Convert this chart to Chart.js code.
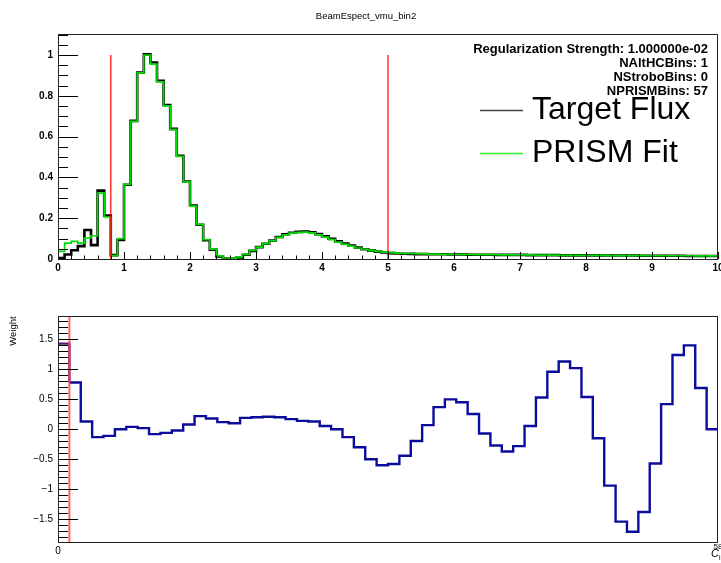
<!DOCTYPE html>
<html>
<head>
<meta charset="utf-8">
<script src="https://cdn.jsdelivr.net/npm/chart.js@4.4.1/dist/chart.umd.min.js"></script>
<style>
  html, body { margin: 0; padding: 0; background: #ffffff; }
  #wrap { position: relative; width: 721px; height: 563px; overflow: hidden; }
  #wrap canvas { position: absolute; left: 0; top: 0; }
</style>
</head>
<body>
<div id="wrap">
  <canvas id="fluxCanvas" width="721" height="563"></canvas>
  <canvas id="weightCanvas" width="721" height="563"></canvas>
</div>
<script>
// ---- Energy binning of the flux histograms (GeV) ----
const energyBinWidth = 0.1;
const energyRange = [0, 10];

// Target flux, 100 bins of 0.1 GeV (normalised to peak)
const targetFlux = [
  0.005, 0.022, 0.043, 0.063, 0.142, 0.068, 0.335, 0.213, 0.019, 0.093,
  0.364, 0.677, 0.914, 1.003, 0.963, 0.873, 0.755, 0.638, 0.506, 0.380,
  0.262, 0.168, 0.092, 0.046, 0.012, 0.004, 0.002, 0.007, 0.021, 0.040,
  0.058, 0.075, 0.091, 0.108, 0.121, 0.129, 0.133, 0.134, 0.131, 0.122,
  0.111, 0.099, 0.087, 0.076, 0.066, 0.056, 0.048, 0.041, 0.036, 0.032,
  0.029, 0.027, 0.026, 0.025, 0.024, 0.024, 0.023, 0.023, 0.023, 0.022,
  0.022, 0.022, 0.021, 0.021, 0.021, 0.021, 0.020, 0.020, 0.020, 0.020,
  0.020, 0.019, 0.019, 0.019, 0.019, 0.019, 0.018, 0.018, 0.018, 0.018,
  0.018, 0.018, 0.017, 0.017, 0.017, 0.017, 0.017, 0.017, 0.016, 0.016,
  0.016, 0.016, 0.016, 0.016, 0.016, 0.015, 0.015, 0.015, 0.015, 0.015
];

// PRISM linear-combination fit, same binning
const prismFit = [
  0.037, 0.078, 0.086, 0.078, 0.103, 0.114, 0.323, 0.206, 0.017, 0.100,
  0.366, 0.675, 0.912, 1.000, 0.955, 0.868, 0.751, 0.634, 0.503, 0.378,
  0.259, 0.170, 0.095, 0.048, 0.015, 0.005, 0.004, 0.010, 0.023, 0.042,
  0.058, 0.075, 0.090, 0.106, 0.119, 0.127, 0.131, 0.132, 0.128, 0.118,
  0.107, 0.095, 0.083, 0.072, 0.063, 0.054, 0.047, 0.041, 0.037, 0.034,
  0.031, 0.029, 0.028, 0.027, 0.026, 0.025, 0.024, 0.024, 0.023, 0.023,
  0.022, 0.022, 0.022, 0.021, 0.021, 0.021, 0.021, 0.020, 0.020, 0.020,
  0.020, 0.020, 0.019, 0.019, 0.019, 0.019, 0.018, 0.018, 0.018, 0.018,
  0.018, 0.018, 0.018, 0.017, 0.017, 0.017, 0.017, 0.017, 0.017, 0.016,
  0.016, 0.016, 0.016, 0.016, 0.016, 0.016, 0.015, 0.015, 0.015, 0.015
];

// Fit range boundaries (GeV), drawn up to unit height
const fitRangeEdges = [0.8, 5.0];
const fitRangeHeight = 1;

// Fit coefficients per off-axis slice (bin 0 is the alternate horn-current slice)
const weights = [
  1.43, 0.78, 0.13, -0.13, -0.11, 0.00, 0.04, 0.02, -0.08, -0.06,
  -0.02, 0.08, 0.22, 0.18, 0.12, 0.10, 0.19, 0.20, 0.21, 0.20,
  0.17, 0.14, 0.13, 0.055, 0.00, -0.13, -0.30, -0.50, -0.60, -0.58,
  -0.44, -0.195, 0.07, 0.37, 0.50, 0.45, 0.255, -0.07, -0.27, -0.37,
  -0.28, 0.055, 0.53, 0.96, 1.13, 1.02, 0.54, -0.15, -0.94, -1.54,
  -1.71, -1.38, -0.57, 0.42, 1.24, 1.40, 0.69, 0.00
];
const weightRange = [-1.88, 1.89];
const altHCBoundary = 1;

// Text block
const titleText = 'BeamEspect_vmu_bin2';
const infoLines = [
  'Regularization Strength: 1.000000e-02',
  'NAltHCBins: 1',
  'NStroboBins: 0',
  'NPRISMBins: 57'
];

const FONT = '"Liberation Sans", Arial, Helvetica, sans-serif';

// Convert per-bin contents into step-line vertices at the bin low edges
function histPoints(values, width) {
  const pts = values.map((v, i) => ({ x: i * width, y: v }));
  pts.push({ x: values.length * width, y: values[values.length - 1] });
  return pts;
}

function fmtTick(v) {
  const r = Math.round(v * 10) / 10;
  return r < 0 ? '\u2212' + String(-r) : String(r);
}

// Frame and inward ticks in the style of an analysis canvas
const frameTicks = {
  id: 'frameTicks',
  afterDatasetsDraw(chart, args, o) {
    const { ctx, chartArea: a, scales: { x, y } } = chart;
    ctx.save();
    ctx.strokeStyle = '#000';
    ctx.lineWidth = 1;
    ctx.beginPath();
    // y axis
    for (let k = 0; ; k++) {
      const v = o.yStart + k * o.yMinor;
      if (v > y.max + 1e-9) break;
      const isMajor = Math.abs(v / o.yMajor - Math.round(v / o.yMajor)) < 1e-6;
      const p = Math.round(y.getPixelForValue(v)) + 0.5;
      ctx.moveTo(a.left, p);
      ctx.lineTo(a.left + (isMajor ? o.yMajorLen : o.yMinorLen), p);
    }
    // x axis
    if (o.xMinor) {
      for (let k = 0; ; k++) {
        const v = x.min + k * o.xMinor;
        if (v > x.max + 1e-9) break;
        const isMajor = Math.abs(v / o.xMajor - Math.round(v / o.xMajor)) < 1e-6;
        const p = Math.round(x.getPixelForValue(v)) + 0.5;
        ctx.moveTo(p, a.bottom);
        ctx.lineTo(p, a.bottom - (isMajor ? o.xMajorLen : o.xMinorLen));
      }
    }
    ctx.stroke();
    ctx.strokeStyle = '#222';
    ctx.strokeRect(Math.round(a.left) + 0.5, Math.round(a.top) + 0.5,
      Math.round(a.right - a.left) - 1, Math.round(a.bottom - a.top));
    ctx.restore();
  }
};

// Title, fit summary and legend for the flux panel
const fluxAnnotations = {
  id: 'fluxAnnotations',
  afterDraw(chart) {
    const ctx = chart.ctx;
    ctx.save();
    ctx.fillStyle = '#000';
    ctx.textBaseline = 'middle';
    ctx.textAlign = 'center';
    ctx.font = '9.5px ' + FONT;
    ctx.fillText(titleText, 366, 16);

    ctx.textAlign = 'right';
    ctx.font = 'bold 13px ' + FONT;
    infoLines.forEach((t, i) => ctx.fillText(t, 708, 49 + i * 14.2));

    const entries = chart.data.datasets.filter(d => d.legendEntry);
    entries.sort((p, q) => p.legendEntry - q.legendEntry);
    entries.forEach((d, i) => {
      const yy = 110.5 + i * 43;
      ctx.strokeStyle = d.legendColor;
      ctx.lineWidth = 1.5;
      ctx.beginPath();
      ctx.moveTo(480, yy);
      ctx.lineTo(523, yy);
      ctx.stroke();
      ctx.textAlign = 'left';
      ctx.font = '32px ' + FONT;
      ctx.fillStyle = '#000';
      ctx.fillText(d.label, 532, yy);
    });
    ctx.restore();
  }
};

// Axis titles and end label for the weight panel
const weightAnnotations = {
  id: 'weightAnnotations',
  afterDraw(chart) {
    const { ctx, chartArea: a, scales: { x } } = chart;
    ctx.save();
    ctx.fillStyle = '#000';
    ctx.textBaseline = 'middle';
    ctx.translate(13, 331);
    ctx.rotate(-Math.PI / 2);
    ctx.textAlign = 'center';
    ctx.font = '9.5px ' + FONT;
    ctx.fillText('Weight', 0, 0);
    ctx.setTransform(1, 0, 0, 1, 0, 0);
    const xr = x.getPixelForValue(x.max);
    ctx.font = '8px ' + FONT;
    ctx.textAlign = 'center';
    ctx.fillText(String(weights.length), xr, a.bottom + 5);
    ctx.font = 'italic 11px ' + FONT;
    ctx.textAlign = 'left';
    ctx.fillText('C', xr - 7, a.bottom + 12);
    ctx.font = '7px ' + FONT;
    ctx.fillText('i', xr + 1, a.bottom + 16);
    ctx.restore();
  }
};

const commonOpts = {
  responsive: false,
  animation: false,
  events: [],
  plugins: { legend: { display: false }, tooltip: { enabled: false } },
  elements: { point: { radius: 0 } }
};

// ---------- Flux panel ----------
new Chart(document.getElementById('fluxCanvas'), {
  type: 'line',
  data: {
    datasets: [
      ...fitRangeEdges.map((e, i) => ({
        label: 'fit edge ' + i,
        data: [{ x: e, y: 0 }, { x: e, y: fitRangeHeight }],
        borderColor: '#ff0000',
        borderWidth: 1.2,
        order: 0
      })),
      {
        label: 'PRISM Fit',
        data: histPoints(prismFit, energyBinWidth),
        stepped: 'before',
        borderColor: '#00dd00',
        borderWidth: 1.7,
        order: 1,
        legendEntry: 2,
        legendColor: '#33ee33'
      },
      {
        label: 'Target Flux',
        data: histPoints(targetFlux, energyBinWidth),
        stepped: 'before',
        borderColor: '#000000',
        borderWidth: 2.6,
        order: 2,
        legendEntry: 1,
        legendColor: '#444444'
      }
    ]
  },
  options: {
    ...commonOpts,
    layout: { padding: { left: 0, top: 34, right: 3, bottom: 284 } },
    scales: {
      x: {
        type: 'linear', min: energyRange[0], max: energyRange[1],
        grid: { display: false, drawTicks: false }, border: { display: false },
        ticks: { stepSize: 1, autoSkip: false, maxRotation: 0, padding: 3, color: '#000',
                 font: { family: FONT, size: 10, weight: 'bold' } },
        afterFit(s) { s.height = 20; s.paddingLeft = 0; s.paddingRight = 0; }
      },
      y: {
        type: 'linear', min: 0, max: 1.103,
        grid: { display: false, drawTicks: false }, border: { display: false },
        ticks: { stepSize: 0.2, includeBounds: false, padding: 5, color: '#000',
                 callback: v => fmtTick(v),
                 font: { family: FONT, size: 10, weight: 'bold' } },
        afterFit(s) { s.width = 58; s.paddingTop = 0; s.paddingBottom = 0; }
      }
    },
    plugins: {
      ...commonOpts.plugins,
      frameTicks: { yStart: 0, yMinor: 0.05, yMajor: 0.2, yMajorLen: 20, yMinorLen: 10,
                    xMinor: 0.2, xMajor: 1, xMajorLen: 7, xMinorLen: 3.5 }
    }
  },
  plugins: [frameTicks, fluxAnnotations]
});

// ---------- Weight panel ----------
new Chart(document.getElementById('weightCanvas'), {
  type: 'line',
  data: {
    datasets: [
      {
        label: 'alt HC boundary',
        data: [{ x: altHCBoundary, y: weightRange[0] }, { x: altHCBoundary, y: weightRange[1] }],
        borderColor: 'rgba(255,70,70,0.85)',
        borderWidth: 2,
        order: 0
      },
      {
        label: 'Weight',
        data: histPoints(weights, 1),
        stepped: 'before',
        borderColor: '#0c0c9c',
        borderWidth: 2.4,
        segment: { borderColor: c => (c.p0DataIndex === 0 ? '#5a1678' : undefined) },
        order: 1
      }
    ]
  },
  options: {
    ...commonOpts,
    layout: { padding: { left: 0, top: 316, right: 3, bottom: 0 } },
    scales: {
      x: {
        type: 'linear', min: 0, max: weights.length,
        grid: { display: false, drawTicks: false }, border: { display: false },
        ticks: { stepSize: weights.length, autoSkip: false, maxRotation: 0, padding: 3, color: '#000',
                 callback: v => (v === 0 ? '0' : ''),
                 font: { family: FONT, size: 10 } },
        afterFit(s) { s.height = 21; s.paddingLeft = 0; s.paddingRight = 0; }
      },
      y: {
        type: 'linear', min: weightRange[0], max: weightRange[1],
        grid: { display: false, drawTicks: false }, border: { display: false },
        ticks: { stepSize: 0.5, includeBounds: false, padding: 5, color: '#000',
                 callback: v => fmtTick(v),
                 font: { family: FONT, size: 10 } },
        afterFit(s) { s.width = 58; s.paddingTop = 0; s.paddingBottom = 0; }
      }
    },
    plugins: {
      ...commonOpts.plugins,
      frameTicks: { yStart: -1.8, yMinor: 0.1, yMajor: 0.5, yMajorLen: 20, yMinorLen: 10, xMinor: 0 }
    }
  },
  plugins: [frameTicks, weightAnnotations]
});
</script>
</body>
</html>
